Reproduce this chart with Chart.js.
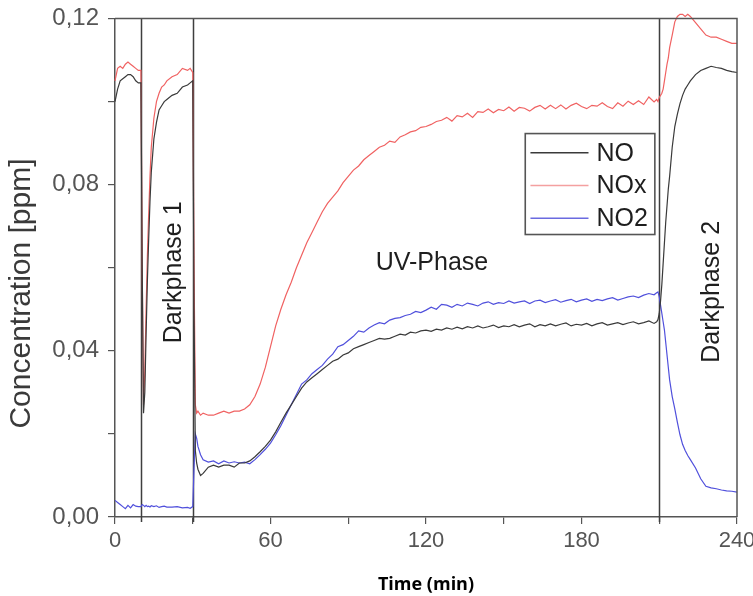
<!DOCTYPE html>
<html><head><meta charset="utf-8">
<script src="https://cdn.jsdelivr.net/npm/chart.js@4"></script>
<style>html,body{margin:0;padding:0;background:#fff;}#wrap{width:753px;height:596px;}</style>
</head><body><div id="wrap"><canvas id="c" width="753" height="596"></canvas></div>
<script>
// ---- DATA ----
const timeMin = [0,1,2,3,4,5,6,7,8,9,10,
  10.5,11,11.5,12,12.5,13,13.5,14,
  15,16,17,18,19,20,
  22,24,26,28,29,30,
  30.5,31,31.5,32,33,34,
  36,38,40,42,44,46,48,50,52,54,56,58,60,62,64,66,68,70,72,74,76,78,80,82,84,86,88,90,92,94,96,98,100,
  102,104,106,108,110,112,114,116,118,120,122,124,126,128,130,132,134,136,138,140,
  142,144,146,148,150,152,154,156,158,160,162,164,166,168,170,172,174,176,178,180,
  182,184,186,188,190,192,194,196,198,200,202,204,206,208,
  209,209.5,210,210.5,211,211.5,212,212.5,213,213.5,214,
  215,216,217,218,219,220,221,222,
  224,226,228,230,232,234,236,238,240];

const noxPpm = [0.105,0.108,0.1085,0.108,0.109,0.1095,0.109,0.1085,0.108,0.1075,0.1075,
  0.06,0.027,0.035,0.05,0.063,0.073,0.082,0.089,
  0.096,0.1,0.102,0.1035,0.104,0.105,
  0.106,0.1065,0.108,0.1075,0.108,0.107,
  0.06,0.027,0.025,0.0255,0.0245,0.025,
  0.0245,0.0245,0.025,0.0255,0.025,0.0255,0.0255,0.026,0.027,0.029,0.032,0.036,0.041,0.046,0.05,0.0535,
  0.0565,0.06,0.063,0.066,0.0685,0.071,0.0735,0.0755,0.077,0.0785,0.0805,0.082,0.0835,0.0845,0.086,0.087,0.088,
  0.089,0.0895,0.0905,0.0902,0.0915,0.092,0.0927,0.093,0.0938,0.094,0.0945,0.0952,0.0955,0.0962,0.0953,0.0966,0.0963,0.0972,0.0962,0.0976,
  0.0974,0.0982,0.0973,0.0981,0.0978,0.0987,0.0977,0.0986,0.0984,0.0977,0.0986,0.0991,0.0982,0.0991,0.0983,0.0992,0.0982,0.0991,0.0996,0.0988,
  0.0983,0.0991,0.0989,0.0997,0.0988,0.0983,0.0997,0.0989,0.1001,0.0993,0.1002,0.0993,0.1011,0.0999,
  0.1005,0.1,0.101,0.1015,0.102,0.103,0.105,0.107,0.109,0.1105,0.113,
  0.116,0.1192,0.1205,0.121,0.121,0.1205,0.121,0.1205,
  0.119,0.1175,0.116,0.1155,0.1155,0.115,0.1145,0.114,0.114];

const noPpm = [0.1,0.103,0.105,0.1055,0.106,0.1065,0.1065,0.106,0.105,0.1045,0.1045,
  0.06,0.025,0.03,0.044,0.057,0.067,0.076,0.083,
  0.091,0.095,0.098,0.099,0.1,0.1005,
  0.1015,0.102,0.1035,0.104,0.1045,0.105,
  0.05,0.016,0.013,0.0115,0.01,0.0105,
  0.012,0.0125,0.012,0.0125,0.0125,0.012,0.013,0.013,0.0135,0.0145,0.0157,0.017,0.0185,0.0205,0.0228,0.025,
  0.027,0.029,0.031,0.0325,0.0335,0.0345,0.0355,0.0365,0.0375,0.038,0.039,0.0395,0.0405,0.041,0.0415,0.042,0.0425,
  0.043,0.0428,0.043,0.0435,0.044,0.0438,0.0445,0.0443,0.0448,0.045,0.0447,0.0452,0.045,0.0455,0.0452,0.0457,0.0453,0.0458,0.0455,0.046,
  0.0455,0.0458,0.0462,0.0456,0.046,0.0458,0.0463,0.0458,0.0462,0.0465,0.0458,0.0463,0.046,0.0465,0.046,0.0464,0.0467,0.046,0.0464,0.0462,
  0.0466,0.046,0.0465,0.0468,0.0462,0.0465,0.0468,0.0463,0.0467,0.047,0.0465,0.0468,0.0472,0.0466,
  0.047,0.0475,0.049,0.052,0.056,0.061,0.066,0.071,0.075,0.079,0.082,
  0.089,0.094,0.097,0.0995,0.1015,0.103,0.104,0.105,
  0.1065,0.1075,0.108,0.1085,0.1082,0.108,0.1075,0.1072,0.107];

const no2Ppm = [0.004,0.0035,0.003,0.0025,0.002,0.0028,0.0022,0.003,0.0026,0.0025,0.0025,
  0.003,0.0028,0.0025,0.0028,0.0025,0.0026,0.0024,0.0027,
  0.0025,0.0027,0.0023,0.0025,0.0026,0.0024,
  0.0024,0.0025,0.0022,0.0023,0.0021,0.0025,
  0.012,0.02,0.019,0.017,0.015,0.0138,
  0.0132,0.0135,0.0128,0.0135,0.013,0.0133,0.013,0.0132,0.0128,0.0138,0.015,0.0163,0.0178,0.0198,0.022,0.0245,
  0.027,0.0295,0.032,0.033,0.0345,0.0355,0.0365,0.038,0.0392,0.041,0.0415,0.0425,0.0435,0.0448,0.0445,0.0455,0.0462,
  0.0468,0.0465,0.0474,0.0478,0.048,0.0485,0.0488,0.0495,0.0492,0.0498,0.0505,0.05,0.0512,0.051,0.0505,0.0512,0.0508,0.0515,0.0512,0.0508,
  0.0515,0.0518,0.0512,0.0516,0.0514,0.052,0.0515,0.0518,0.052,0.0514,0.052,0.0522,0.0516,0.052,0.0523,0.0517,0.0521,0.0524,0.0518,0.0522,
  0.0525,0.0519,0.0524,0.0521,0.0525,0.0528,0.0522,0.0526,0.053,0.0532,0.0528,0.0534,0.0538,0.0535,
  0.054,0.0542,0.053,0.051,0.049,0.047,0.045,0.042,0.039,0.036,0.033,
  0.029,0.026,0.0228,0.0198,0.0175,0.016,0.0148,0.0138,
  0.0118,0.0092,0.0074,0.007,0.0068,0.0065,0.0063,0.0062,0.006];

const seriesLabels = ['NO', 'NOx', 'NO2'];
const xTickValues = [0, 30, 60, 90, 120, 150, 180, 210, 240];
const xTickLabels = ['0', '', '60', '', '120', '', '180', '', '240'];
const yTickValues = [0, 0.02, 0.04, 0.06, 0.08, 0.10, 0.12];
const yTickLabels = ['0,00', '', '0,04', '', '0,08', '', '0,12'];
const phaseBoundaries = [10, 30, 210];
const phaseLabels = ['Darkphase 1', 'UV-Phase', 'Darkphase 2'];
const yTitle = 'Concentration [ppm]';
const xTitle = 'Time (min)';

// ---- STYLE / DRAWING ----
const seriesColors = ['#3a3a3a', '#f06262', '#5050dc'];
const legendColors = ['#3a3a3a', '#f4a0a0', '#6a6ae0'];
Chart.defaults.font.family = '"Liberation Sans", Arial, sans-serif';

const toPts = arr => arr.map((v, i) => ({ x: timeMin[i], y: v }));

const overlay = {
  id: 'overlay',
  beforeDatasetsDraw(chart) {
    const { ctx, chartArea: a, scales: { x } } = chart;
    ctx.save();
    ctx.strokeStyle = '#3f3f3f';
    ctx.lineWidth = 1.5;
    phaseBoundaries.forEach(t => {
      const px = Math.round(x.getPixelForValue(t)) + 0.5;
      ctx.beginPath(); ctx.moveTo(px, a.top); ctx.lineTo(px, a.bottom + 5); ctx.stroke();
    });
    ctx.restore();
  },
  afterDatasetsDraw(chart) {
    const { ctx, chartArea: a, scales: { x, y } } = chart;
    ctx.save();
    ctx.strokeStyle = '#555'; ctx.lineWidth = 1.5;
    ctx.beginPath(); ctx.moveTo(a.left, a.top); ctx.lineTo(a.right, a.top); ctx.lineTo(a.right, a.bottom); ctx.stroke();

    // y-axis title
    ctx.save();
    ctx.fillStyle = '#3a3a3a';
    ctx.font = '30px "Liberation Sans", Arial, sans-serif';
    ctx.textAlign = 'center'; ctx.textBaseline = 'middle';
    ctx.translate(22, y.getPixelForValue(0.0538));
    ctx.rotate(-Math.PI / 2);
    ctx.fillText(yTitle, 0, 0);
    ctx.restore();

    ctx.fillStyle = '#1e1e1e';
    ctx.font = '25px "Liberation Sans", Arial, sans-serif';
    ctx.textAlign = 'center'; ctx.textBaseline = 'middle';
    const ann = [
      { text: phaseLabels[0], t: 23, v: 0.0589, rot: true },
      { text: phaseLabels[1], t: 122.3, v: 0.0611, rot: false },
      { text: phaseLabels[2], t: 230.5, v: 0.0542, rot: true }
    ];
    ann.forEach(a2 => {
      ctx.save();
      ctx.translate(x.getPixelForValue(a2.t), y.getPixelForValue(a2.v));
      if (a2.rot) ctx.rotate(-Math.PI / 2);
      ctx.fillText(a2.text, 0, 0);
      ctx.restore();
    });

    const L = x.getPixelForValue(158.3), R = x.getPixelForValue(208.3);
    const T = y.getPixelForValue(0.0923), B = y.getPixelForValue(0.068);
    ctx.fillStyle = '#fff'; ctx.fillRect(L, T, R - L, B - T);
    ctx.strokeStyle = '#555'; ctx.lineWidth = 1.6; ctx.strokeRect(L, T, R - L, B - T);
    const rows = [0.0877, 0.0798, 0.0719];
    ctx.textAlign = 'left'; ctx.textBaseline = 'middle';
    seriesLabels.forEach((lab, i) => {
      const ry = y.getPixelForValue(rows[i]);
      ctx.strokeStyle = legendColors[i]; ctx.lineWidth = 1.6;
      ctx.beginPath(); ctx.moveTo(x.getPixelForValue(160.3), ry); ctx.lineTo(x.getPixelForValue(182.7), ry); ctx.stroke();
      ctx.fillStyle = '#1e1e1e';
      ctx.fillText(lab, x.getPixelForValue(185.8), ry + 1);
    });
    ctx.restore();
  }
};

const ds = (label, arr, color) => ({
  label, data: toPts(arr), borderColor: color, backgroundColor: color,
  borderWidth: 1.2, pointRadius: 0, tension: 0, fill: false, clip: false
});

new Chart(document.getElementById('c'), {
  type: 'line',
  data: {
    datasets: [
      ds(seriesLabels[0], noPpm, seriesColors[0]),
      ds(seriesLabels[1], noxPpm, seriesColors[1]),
      ds(seriesLabels[2], no2Ppm, seriesColors[2])
    ]
  },
  options: {
    responsive: false, animation: false, devicePixelRatio: 1,
    layout: { padding: { top: 18.5, right: 16, bottom: 0, left: 0 } },
    plugins: { legend: { display: false }, tooltip: { enabled: false } },
    scales: {
      x: {
        type: 'linear', min: 0, max: 240,
        afterBuildTicks: s => { s.ticks = xTickValues.map(v => ({ value: v })); },
        afterFit: s => { s.height = 79; s.paddingLeft = 0; s.paddingRight = 0; },
        ticks: { callback: (v, i) => xTickLabels[i], color: '#555', font: { size: 22 }, padding: 4, maxRotation: 0, autoSkip: false },
        grid: { drawOnChartArea: false, drawTicks: true, tickLength: 7, color: '#555', lineWidth: 1.2 },
        border: { display: true, color: '#555', width: 1.5 },
        title: { display: true, text: xTitle, color: '#000', font: { family: '"Open Sans", sans-serif', weight: 'bold', size: 18 }, padding: { top: 0, bottom: 0 } }
      },
      y: {
        min: 0, max: 0.12,
        afterBuildTicks: s => { s.ticks = yTickValues.map(v => ({ value: v })); },
        afterFit: s => { s.width = 115; s.paddingTop = 0; s.paddingBottom = 0; },
        ticks: { callback: (v, i) => yTickLabels[i], color: '#555', font: { size: 24 }, padding: 9, autoSkip: false },
        grid: { drawOnChartArea: false, drawTicks: true, tickLength: 7, color: '#555', lineWidth: 1.2 },
        border: { display: true, color: '#555', width: 1.5 },
        title: { display: false }
      }
    }
  },
  plugins: [overlay]
});
</script>
</body></html>
